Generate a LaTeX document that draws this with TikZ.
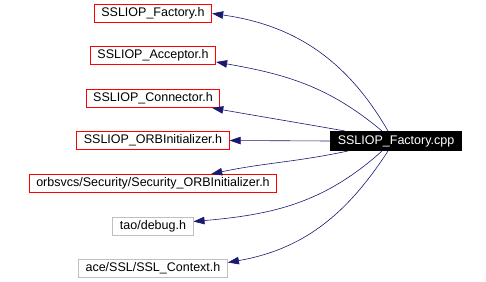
\documentclass[tikz,border=0pt]{standalone}
\usepackage{fontspec}
\setmainfont{Liberation Sans}
\usepackage{tikz}
\usetikzlibrary{arrows.meta}
\definecolor{edgeblue}{HTML}{191970}
\definecolor{sysgray}{HTML}{BFBFBF}

\begin{document}
\begin{tikzpicture}[x=1pt,y=1pt,
  box/.style={draw, color=#1, text=black, line width=1pt, inner xsep=7pt, inner ysep=0pt, minimum height=18pt, font=\fontsize{12.5}{14}\selectfont},
  hdr/.style={box=red},
  sys/.style={box=sysgray},
  cur/.style={box=black, fill=black, text=white, minimum height=19pt},
  dep/.style={edgeblue, line width=0.6pt, -{Triangle[length=11pt,width=7.5pt]}}]
\useasboundingbox (0,0) rectangle (486,281);
\foreach \n/\y/\s/\t in {fac/267.5/hdr/{SSLIOP\_Factory.h}, acc/225.5/hdr/{SSLIOP\_Acceptor.h},
    con/182.5/hdr/{SSLIOP\_Connector.h}, orb/140.5/hdr/{SSLIOP\_ORBInitializer.h},
    sec/97.5/hdr/{orbsvcs/Security/Security\_ORBInitializer.h},
    dbg/54.5/sys/{tao/debug.h}, ctx/12.5/sys/{ace/SSL/SSL\_Context.h}} {
  \node[\s] (\n) at (153,\y) {\t};
}
\node[cur] (main) at (396,140) {SSLIOP\_Factory.cpp};
\draw[dep] ([xshift=-8pt]main.north) to[out=120, in=-8] (fac.east);
\draw[dep] ([xshift=-14pt]main.north) to[out=140, in=-10] ([yshift=3pt]acc.south east);
\draw[dep] ([xshift=-51pt]main.north) to[out=170, in=-10] ([xshift=-8pt]con.south east);
\draw[dep] (main.west) -- (orb.east);
\draw[dep] ([xshift=-48pt]main.south) to[out=192, in=12] ([xshift=-66pt]sec.north east);
\draw[dep] ([xshift=-14pt]main.south) to[out=222, in=5] ([yshift=5pt]dbg.east);
\draw[dep] ([xshift=-8pt]main.south) to[out=237, in=10] ([yshift=6pt]ctx.east);
\end{tikzpicture}
\end{document}
